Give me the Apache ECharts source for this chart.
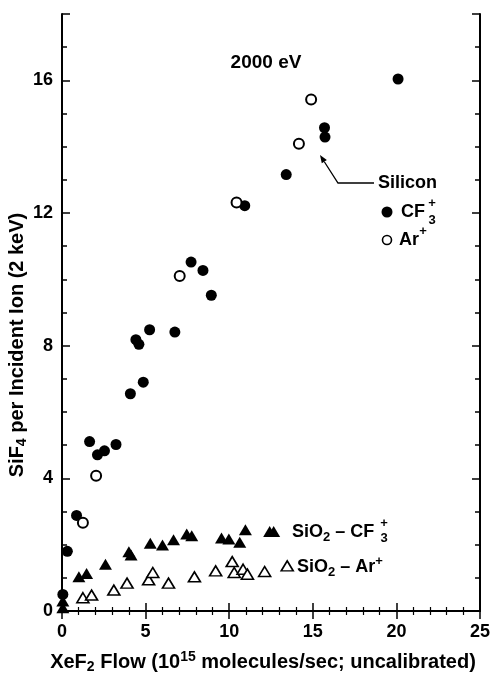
<!DOCTYPE html>
<html>
<head>
<meta charset="utf-8">
<script src="https://cdn.jsdelivr.net/npm/echarts@6/dist/echarts.min.js"></script>
<style>
  html, body { margin: 0; padding: 0; background: #fff; }
  #chart { width: 493px; height: 677px; }
</style>
</head>
<body>
<div id="chart"></div>
<script>
// SiF4 yield vs XeF2 flow, 2000 eV ions
// Silicon target, CF3+ ions (filled circles)
const siliconCF3 = [
  [0.05, 0.50], [0.32, 1.80], [0.87, 2.88], [1.65, 5.11], [2.12, 4.71],
  [2.54, 4.83], [3.23, 5.02], [4.09, 6.55], [4.42, 8.18], [4.60, 8.04],
  [4.86, 6.90], [5.24, 8.48], [6.75, 8.41], [7.72, 10.52], [8.43, 10.27],
  [8.93, 9.52], [10.93, 12.22], [13.41, 13.16], [15.70, 14.57], [15.73, 14.29],
  [20.10, 16.04]
];
// Silicon target, Ar+ ions (open circles)
const siliconAr = [
  [1.25, 2.66], [2.04, 4.08], [7.04, 10.10], [10.44, 12.32], [14.17, 14.09],
  [14.90, 15.42]
];
// SiO2 target, CF3+ ions (filled triangles)
const sio2CF3 = [
  [0.05, 0.30], [0.05, 0.10], [1.01, 1.03], [1.47, 1.13], [2.60, 1.41], [4.00, 1.79],
  [4.13, 1.69], [5.28, 2.04], [6.01, 1.99], [6.67, 2.15], [7.46, 2.32],
  [7.76, 2.27], [9.54, 2.20], [9.98, 2.17], [10.63, 2.07], [10.97, 2.45],
  [12.42, 2.40], [12.66, 2.40]
];
// SiO2 target, Ar+ ions (open triangles)
const sio2Ar = [
  [1.25, 0.40], [1.77, 0.48], [3.10, 0.63], [3.89, 0.84],
  [5.18, 0.94], [5.43, 1.16], [6.37, 0.84], [7.92, 1.03], [9.19, 1.21],
  [10.18, 1.49], [10.30, 1.16], [10.83, 1.26], [11.09, 1.11], [12.12, 1.19],
  [13.47, 1.36]
];

const xRange = [0, 25];
const yRange = [0, 18];

const FONT = '"Liberation Sans", Arial, Helvetica, sans-serif';
const INK = '#000';
const FS = 18;   // tick labels and annotations
const TFS = 20;  // axis titles

const chart = echarts.init(document.getElementById('chart'), null, { renderer: 'canvas' });

const frameLine = { show: true, lineStyle: { color: INK, width: 2 } };

function xAxisDef(pos, labels) {
  return {
    type: 'value', position: pos, min: xRange[0], max: xRange[1], interval: 5,
    axisLine: frameLine,
    axisTick: { show: true, inside: true, length: 8, lineStyle: { color: INK, width: 1.5 } },
    minorTick: { show: true, splitNumber: 5, length: 4, lineStyle: { color: INK, width: 1.2 } },
    splitLine: { show: false },
    axisLabel: labels ? { show: true, color: INK, fontFamily: FONT, fontWeight: 'bold', fontSize: FS, margin: 12 } : { show: false }
  };
}
function yAxisDef(pos, interval, tickLen, labels, line) {
  return {
    type: 'value', position: pos, min: yRange[0], max: yRange[1], interval: interval,
    axisLine: line ? frameLine : { show: false },
    axisTick: { show: true, inside: true, length: tickLen, lineStyle: { color: INK, width: 1.5 } },
    splitLine: { show: false },
    axisLabel: labels ? {
      show: true, color: INK, fontFamily: FONT, fontWeight: 'bold', fontSize: FS, margin: 9,
      formatter: v => (v % 4 === 0 ? String(v) : '')
    } : { show: false }
  };
}

function richSet(size) {
  const sub = Math.round(size * 0.7);
  return {
    n: { fontSize: size, fontWeight: 'bold', lineHeight: 24, fontFamily: FONT, color: INK },
    s: { fontSize: sub, fontWeight: 'bold', lineHeight: sub, verticalAlign: 'bottom', fontFamily: FONT, color: INK },
    p: { fontSize: sub, fontWeight: 'bold', lineHeight: sub, verticalAlign: 'top', fontFamily: FONT, color: INK }
  };
}

function txt(x, y, text, opts, size) {
  size = size || FS;
  return {
    type: 'text', x: x, y: y, silent: true,
    style: Object.assign({
      text: text, fill: INK, font: 'bold ' + size + 'px ' + FONT,
      align: 'left', verticalAlign: 'middle', rich: richSet(size)
    }, opts || {})
  };
}
function small(x, y, text) {
  return txt(x, y, text, { font: 'bold 13px ' + FONT, align: 'center' });
}

// arrow pointing from the "Silicon" label to the data
const arrowPts = [[374, 183], [338, 183], [320, 155]];
const tip = arrowPts[2], from = arrowPts[1];
const dx = tip[0] - from[0], dy = tip[1] - from[1], dl = Math.hypot(dx, dy);
const ux = dx / dl, uy = dy / dl, headL = 8, headW = 3;
const base = [tip[0] - ux * headL, tip[1] - uy * headL];

chart.setOption({
  animation: false,
  backgroundColor: '#fff',
  grid: { left: 62, right: 10, top: 14, bottom: 66, containLabel: false },
  xAxis: [xAxisDef('bottom', true), xAxisDef('top', false)],
  yAxis: [
    yAxisDef('left', 4, 8, true, true),
    yAxisDef('left', 1, 5, false, false),
    yAxisDef('right', 4, 8, false, true),
    yAxisDef('right', 1, 5, false, false)
  ],
  series: [
    {
      name: 'Silicon CF3+', type: 'scatter', data: siliconCF3, xAxisIndex: 0, yAxisIndex: 0,
      symbol: 'circle', symbolSize: 11, itemStyle: { color: INK, opacity: 1 }
    },
    {
      name: 'Silicon Ar+', type: 'scatter', data: siliconAr, xAxisIndex: 0, yAxisIndex: 0,
      symbol: 'circle', symbolSize: 10,
      itemStyle: { color: '#fff', borderColor: INK, borderWidth: 2, opacity: 1 }
    },
    {
      name: 'SiO2 CF3+', type: 'scatter', data: sio2CF3, xAxisIndex: 0, yAxisIndex: 0,
      symbol: 'triangle', symbolSize: [13, 11], itemStyle: { color: INK, opacity: 1 }
    },
    {
      name: 'SiO2 Ar+', type: 'scatter', data: sio2Ar, xAxisIndex: 0, yAxisIndex: 0,
      symbol: 'triangle', symbolSize: [12, 10],
      itemStyle: { color: '#fff', borderColor: INK, borderWidth: 1.6, opacity: 1 }
    }
  ],
  graphic: [
    // axis titles
    txt(263, 662, '{n|XeF}{s|2}{n| Flow (10}{p|15}{n| molecules/sec; uncalibrated)}', { align: 'center' }, TFS),
    Object.assign(txt(17, 345, '{n|SiF}{s|4}{n| per Incident Ion (2 keV)}', { align: 'center' }, TFS), { rotation: Math.PI / 2 }),
    // energy label
    txt(266, 63, '2000 eV', { align: 'center' }, 19),
    // silicon annotation
    txt(378, 183, 'Silicon'),
    { type: 'polyline', silent: true, shape: { points: [arrowPts[0], arrowPts[1], base] },
      style: { stroke: INK, lineWidth: 1.3, fill: null } },
    { type: 'polygon', silent: true,
      shape: { points: [tip, [base[0] - uy * headW, base[1] + ux * headW], [base[0] + uy * headW, base[1] - ux * headW]] },
      style: { fill: INK } },
    { type: 'circle', silent: true, shape: { cx: 387, cy: 212, r: 5.5 }, style: { fill: INK } },
    txt(401, 212, 'CF'),
    small(432, 203, '+'), small(432, 220, '3'),
    { type: 'circle', silent: true, shape: { cx: 387, cy: 240, r: 4.5 }, style: { fill: '#fff', stroke: INK, lineWidth: 1.6 } },
    txt(399, 240, 'Ar'),
    small(423, 231, '+'),
    // oxide labels
    txt(292, 532, '{n|SiO}{s|2}{n| – CF}'),
    small(384, 523, '+'), small(384, 538, '3'),
    txt(297, 567, '{n|SiO}{s|2}{n| – Ar}{p|+}')
  ]
});
</script>
</body>
</html>
